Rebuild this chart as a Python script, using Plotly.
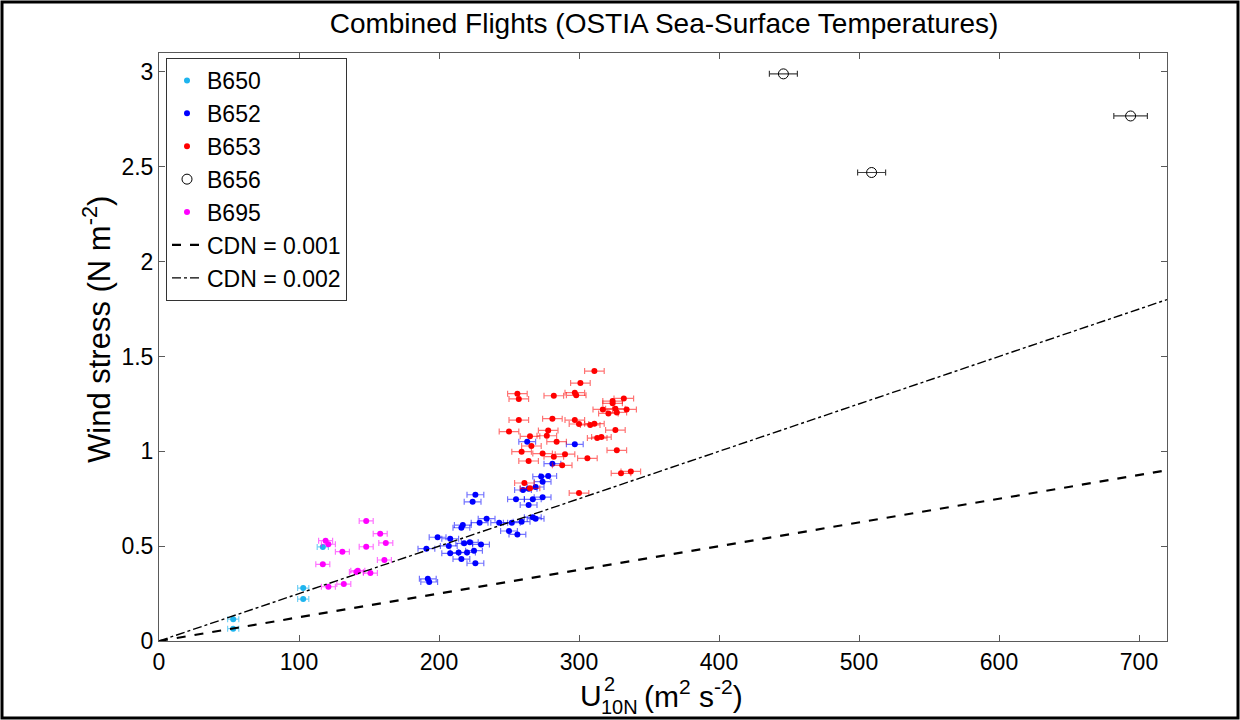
import plotly.graph_objects as go

# --- flight data: U10N^2 (m2 s-2) and wind stress (N m-2) ---
b650_u2 = [53, 53, 103, 103, 117]
b650_tau = [0.115, 0.065, 0.279, 0.221, 0.496]
b650_err = 4

b652_u2 = [263, 297, 281, 273, 278, 274, 269, 264, 260, 226, 224, 255, 267, 274, 264,
           234, 229, 243, 217, 216, 252, 259, 267, 269, 250, 256, 199, 208, 191, 207,
           218, 222, 230, 208, 214, 220, 225, 216, 226, 192, 193]
b652_tau = [1.051, 1.037, 0.935, 0.867, 0.870, 0.840, 0.812, 0.803, 0.796, 0.771, 0.734,
            0.747, 0.747, 0.758, 0.717, 0.645, 0.624, 0.624, 0.611, 0.597, 0.624, 0.629,
            0.652, 0.645, 0.580, 0.562, 0.547, 0.539, 0.487, 0.501, 0.515, 0.520, 0.509,
            0.462, 0.466, 0.467, 0.476, 0.432, 0.410, 0.328, 0.311]
b652_err = 6

b653_u2 = [311, 301, 256, 257, 282, 297, 298, 332, 324, 324, 317, 326, 334, 327, 321,
           257, 281, 297, 300, 308, 311, 250, 278, 326, 265, 277, 284, 313, 316, 266,
           259, 274, 290, 282, 327, 264, 306, 288, 337, 330, 261, 265, 300]
b653_tau = [1.423, 1.360, 1.304, 1.276, 1.293, 1.309, 1.295, 1.279, 1.265, 1.253, 1.221,
            1.225, 1.221, 1.205, 1.200, 1.165, 1.172, 1.165, 1.144, 1.139, 1.146, 1.104,
            1.110, 1.112, 1.079, 1.082, 1.051, 1.070, 1.075, 1.028, 0.998, 0.988, 0.985,
            0.972, 1.005, 0.949, 0.963, 0.926, 0.894, 0.884, 0.833, 0.805, 0.780]
b653_err = 7

b656_u2 = [446, 509, 694]
b656_tau = [2.99, 2.47, 2.768]
b656_err = [10, 10, 12]

b695_u2 = [148, 158, 162, 119, 121, 148, 131, 161, 117, 142, 141, 151, 121, 132]
b695_tau = [0.633, 0.566, 0.517, 0.529, 0.510, 0.497, 0.471, 0.427, 0.404, 0.371,
            0.364, 0.358, 0.286, 0.300]
b695_err = 5

# neutral drag coefficients for the reference lines: tau = rho * CDN * U10N^2
cdn_values = [0.001, 0.002]
rho_air = 1.25
line_u2 = [0, 720]

x_ticks = [0, 100, 200, 300, 400, 500, 600, 700]
y_ticks = [0, 0.5, 1, 1.5, 2, 2.5, 3]

FONT = "Arial, 'Liberation Sans', sans-serif"

# plot-area geometry in pixels
W, H = 1240, 720
ML, MR, MT, MB = 159, 73, 53, 79
PW, PH = W - ML - MR, H - MT - MB


def px_x(px):
    return (px - ML) / PW


def px_y(py):
    return (H - MB - py) / PH


fig = go.Figure()


def add_flight(name, xs, ys, err, color, err_color, symbol="circle", size=6):
    if isinstance(err, list):
        ex = dict(type="data", array=err, visible=True)
    else:
        ex = dict(type="constant", value=err, visible=True)
    ex.update(color=err_color, thickness=1.2, width=3)
    marker = dict(size=size, color=color, symbol=symbol)
    if symbol == "circle-open":
        marker["line"] = dict(color=color, width=1)
    fig.add_trace(go.Scatter(x=xs, y=ys, mode="markers", name=name,
                             marker=marker, error_x=ex))


add_flight("B650", b650_u2, b650_tau, b650_err, "#1EB4EE", "rgba(30,180,238,0.6)")
add_flight("B652", b652_u2, b652_tau, b652_err, "#0000FF", "rgba(0,0,255,0.55)")
add_flight("B653", b653_u2, b653_tau, b653_err, "#FF0000", "rgba(255,0,0,0.55)")
add_flight("B656", b656_u2, b656_tau, b656_err, "#000000", "rgba(0,0,0,0.75)",
           symbol="circle-open", size=10)
add_flight("B695", b695_u2, b695_tau, b695_err, "#FF00FF", "rgba(255,0,255,0.55)")

dashes = ["dash", "dashdot"]
widths = [2.2, 1.4]
for cdn, dash, w in zip(cdn_values, dashes, widths):
    fig.add_trace(go.Scatter(x=line_u2, y=[rho_air * cdn * u for u in line_u2],
                             mode="lines", name=f"CDN = {cdn:g}",
                             line=dict(color="black", dash=dash, width=w)))

axis_style = dict(showline=True, linecolor="#5a5a5a", linewidth=1, mirror="ticks",
                  ticks="inside", ticklen=6, tickcolor="#5a5a5a", showgrid=False,
                  zeroline=False, tickfont=dict(family=FONT, size=23, color="black"))

fig.update_layout(
    width=W, height=H,
    margin=dict(l=ML, r=MR, t=MT, b=MB),
    paper_bgcolor="white", plot_bgcolor="white",
    font=dict(family=FONT, color="black"),
    title=dict(text="Combined Flights (OSTIA Sea-Surface Temperatures)",
               xref="container", x=664 / W, xanchor="center",
               y=1 - 23 / H, yanchor="middle",
               font=dict(family=FONT, size=28, color="black")),
    xaxis=dict(range=[0, 720], tickvals=x_ticks, **axis_style),
    yaxis=dict(range=[0, 3.1], tickvals=y_ticks, ticktext=[f"{v:g}" for v in y_ticks],
               **axis_style),
    legend=dict(x=px_x(166), y=px_y(58), xanchor="left", yanchor="top",
                bgcolor="white", bordercolor="#333333", borderwidth=1,
                font=dict(family=FONT, size=23, color="black"),
                tracegroupgap=0, itemwidth=30),
    showlegend=True,
)

# y-axis label
fig.add_annotation(text="Wind stress (N m<sup>-2</sup>)", textangle=-90,
                   xref="paper", yref="paper", x=px_x(97), y=px_y(330),
                   xanchor="center", yanchor="middle", showarrow=False,
                   font=dict(family=FONT, size=31, color="black"))

# x-axis label: U with stacked super/subscripts
lab = dict(xref="paper", yref="paper", showarrow=False, xanchor="left",
           yanchor="middle")
fig.add_annotation(text="U", x=px_x(578), y=px_y(695),
                   font=dict(family=FONT, size=30, color="black"), **lab)
fig.add_annotation(text="2", x=px_x(602), y=px_y(684),
                   font=dict(family=FONT, size=20, color="black"), **lab)
fig.add_annotation(text="10N", x=px_x(599), y=px_y(707),
                   font=dict(family=FONT, size=20, color="black"), **lab)
fig.add_annotation(text="(m<sup>2</sup> s<sup>-2</sup>)", x=px_x(642), y=px_y(694),
                   font=dict(family=FONT, size=30, color="black"), **lab)

# outer frame round the whole figure
fig.add_shape(type="rect", xref="paper", yref="paper",
              x0=px_x(2), x1=px_x(1238), y0=px_y(718), y1=px_y(2),
              line=dict(color="black", width=3), fillcolor="rgba(0,0,0,0)")

fig.write_html("out.html")
